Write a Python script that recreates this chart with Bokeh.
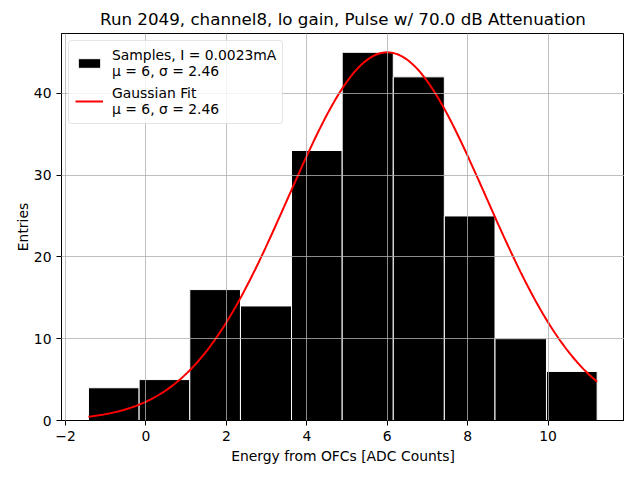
import numpy as np
from bokeh.plotting import figure
from bokeh.models import ColumnDataSource, FixedTicker, Range1d, Legend, LegendItem
from bokeh.embed import file_html
from bokeh.resources import INLINE

# Data
bin_edges = [-1.43, -0.17, 1.09, 2.35, 3.62, 4.88, 6.15, 7.42, 8.68, 9.96, 11.22]
counts = [4, 5, 16, 14, 33, 45, 42, 25, 10, 6]
fit_mu = 6.0
fit_sigma = 2.46
fit_amp = 45.0
x_ticks = [-2, 0, 2, 4, 6, 8, 10]
y_ticks = [0, 10, 20, 30, 40]

left = bin_edges[:-1]
right = bin_edges[1:]
src = ColumnDataSource(dict(left=left, right=right, top=counts, bottom=[0] * len(counts)))

xs = np.linspace(bin_edges[0], bin_edges[-1], 300)
ys = fit_amp * np.exp(-((xs - fit_mu) ** 2) / (2 * fit_sigma ** 2))
fit_src = ColumnDataSource(dict(x=xs, y=ys))

FONT = "DejaVu Sans"

p = figure(
    width=624, height=464,
    frame_width=563, frame_height=387,
    min_border_left=61, min_border_right=0, min_border_top=33, min_border_bottom=44,
    output_backend="svg", toolbar_location=None,
    x_range=Range1d(-2.1, 11.9), y_range=Range1d(0, 47.3),
    title="Run 2049, channel8, lo gain, Pulse w/ 70.0 dB Attenuation",
)
p.title.text_font = FONT
p.title.text_font_size = "16.7px"
p.title.text_font_style = "normal"
p.title.text_color = "black"
p.title.align = "center"

bars = p.quad(left="left", right="right", top="top", bottom="bottom", source=src,
              fill_color="black", line_color="white", line_width=1)
fit = p.line("x", "y", source=fit_src, line_color="red", line_width=2)

p.xaxis.ticker = FixedTicker(ticks=x_ticks)
p.yaxis.ticker = FixedTicker(ticks=y_ticks)
p.xaxis.major_label_overrides = {-2: "\u22122"}
for ax in (p.xaxis, p.yaxis):
    ax.major_label_text_font = FONT
    ax.major_label_text_font_size = "13.9px"
    ax.major_label_text_color = "black"
    ax.axis_label_text_font = FONT
    ax.axis_label_text_font_size = "13.9px"
    ax.axis_label_text_font_style = "normal"
    ax.axis_label_text_color = "black"
    ax.minor_tick_line_color = None
    ax.major_tick_out = 5
    ax.major_tick_in = 0
    ax.axis_line_color = "black"
    ax.major_tick_line_color = "black"
p.xaxis.axis_label = "Energy from OFCs [ADC Counts]"
p.yaxis.axis_label = "Entries"
p.xaxis.axis_label_standoff = 4
p.yaxis.axis_label_standoff = 0

for g in (p.xgrid, p.ygrid):
    g.grid_line_color = "#b0b0b0"
    g.grid_line_width = 0.8
    g.level = "guide"

p.outline_line_color = "black"
p.outline_line_width = 1
p.background_fill_color = "white"
p.border_fill_color = "white"

legend = Legend(items=[
    LegendItem(label="Samples, I = 0.0023mA\n\u03bc = 6, \u03c3 = 2.46", renderers=[bars]),
    LegendItem(label="Gaussian Fit\n\u03bc = 6, \u03c3 = 2.46", renderers=[fit]),
], location="top_left")
legend.label_text_font = FONT
legend.label_text_font_size = "13.9px"
legend.label_text_color = "black"
legend.margin = 7
legend.padding = 6
legend.spacing = 6
legend.label_standoff = 9
legend.glyph_width = 28
legend.glyph_height = 12
legend.border_line_color = "#cccccc"
legend.background_fill_alpha = 0.8
legend.border_radius = 4
p.add_layout(legend)

open("out.html", "w").write(file_html(p, INLINE))
